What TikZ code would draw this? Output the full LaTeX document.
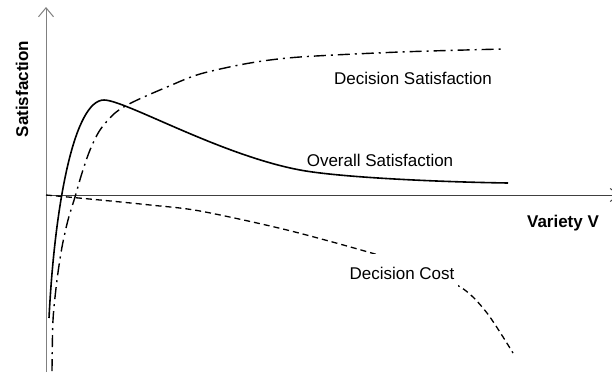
\documentclass[tikz,border=0pt]{standalone}
\usepackage{fontspec}
\setmainfont{Liberation Sans}
\usetikzlibrary{arrows.meta}

\begin{document}
\begin{tikzpicture}[x=1pt,y=-1pt,
  lbl/.style={font=\fontsize{17}{20}\selectfont},
  sat/.style={line width=1.6pt},
  dec/.style={line width=1.4pt,dash pattern=on 12pt off 5pt on 2pt off 5pt},
  cost/.style={line width=1.3pt,dash pattern=on 6pt off 4pt}]
\useasboundingbox (0,0) rectangle (612,372);
% axes
\draw[gray,line width=1pt,-{Straight Barb[length=9pt,width=15pt]}] (46,372) -- (46,7);
\draw[black!75,line width=1pt,-{Straight Barb[length=9pt,width=13pt]}] (46,195) -- (620,195);
\node[lbl,font=\bfseries\fontsize{17}{20}\selectfont,rotate=90] (ylab) at (22,89) {Satisfaction};
\node[lbl,font=\bfseries\fontsize{17}{20}\selectfont] (xlab) at (563,223) {Variety V};
% decision cost
\draw[cost] plot[smooth] coordinates {(46,195) (100,200) (150,205) (200,211) (287,230)
  (375,254) (420,269) (462,288) (487,313) (513,353)};
\node[lbl,fill=white,minimum height=38pt,inner xsep=4pt] (cost) at (402,273) {Decision Cost};
% decision satisfaction
\draw[dec] plot[smooth] coordinates {(52,371) (53,320) (57,280) (62,247) (68,220) (75,197)
  (82,173) (90,150) (100,130) (115,113) (133,102) (167,87) (200,74) (250,63) (300,57)
  (400,52) (503,49)};
\node[lbl] (dsat) at (413,78) {Decision Satisfaction};
% overall satisfaction
\draw[sat] (49,318) .. controls (55,200) and (75,100) .. (104,100)
  .. controls (125,100) and (220,155) .. (300,170)
  .. controls (340,177.5) and (440,182) .. (508,183);
\node[lbl] (osat) at (380,160) {Overall Satisfaction};
\end{tikzpicture}
\end{document}
